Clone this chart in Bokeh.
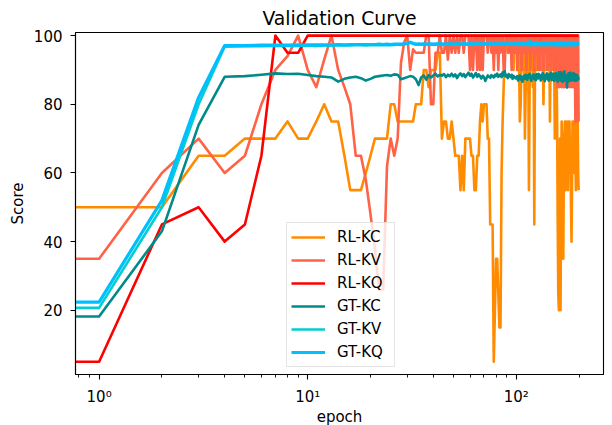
from bokeh.plotting import figure
from bokeh.models import FixedTicker, Legend, LegendItem, Range1d
from bokeh.embed import file_html
from bokeh.resources import INLINE

# ---------------- data ----------------
epochs = list(range(200))

rl_kc = [
    50, 50, 50, 65, 65, 70, 70, 70, 75, 70,
    70, 75, 80, 75, 75, 65, 55, 55, 55, 60,
    65, 70, 70, 70, 70, 80, 80, 75, 75, 75,
    75, 75, 75, 80, 80, 80, 90, 90, 85, 90,
    90, 90, 95, 95, 70, 75, 75, 70, 70, 75,
    70, 65, 65, 65, 55, 65, 55, 70, 70, 70,
    70, 65, 65, 55, 55, 65, 65, 75, 80, 75,
    80, 80, 80, 70, 70, 45, 45, 45, 5, 20,
    35, 35, 25, 15, 15, 60, 75, 85, 95, 100,
    100, 95, 100, 100, 95, 100, 100, 90, 100, 95,
    95, 100, 100, 95, 75, 80, 95, 100, 90, 100,
    70, 85, 100, 95, 100, 55, 90, 100, 95, 100,
    85, 100, 45, 95, 100, 90, 100, 95, 100, 90,
    100, 95, 90, 100, 95, 80, 100, 95, 100, 90,
    100, 95, 100, 90, 100, 75, 95, 100, 90, 100,
    95, 100, 90, 70, 95, 100, 90, 75, 45, 25,
    20, 35, 70, 20, 55, 75, 65, 50, 35, 60,
    70, 75, 55, 65, 75, 60, 70, 55, 75, 65,
    75, 60, 70, 50, 40, 55, 75, 65, 75, 70,
    60, 75, 65, 55, 75, 60, 70, 75, 60, 55,
]

rl_kv = [
    35, 35, 60, 70, 60, 65, 80, 90, 94, 100,
    90, 85, 93, 100, 90, 85, 80, 65, 65, 58,
    48, 38, 26, 26, 62, 70, 65, 70, 92, 98,
    100, 90, 96, 95, 95, 95, 95, 100, 100, 80,
    80, 95, 95, 100, 95, 95, 100, 93, 100, 95,
    100, 95, 100, 95, 100, 100, 95, 100, 100, 100,
    90, 100, 90, 100, 100, 90, 100, 90, 100, 90,
    100, 100, 100, 95, 100, 100, 95, 100, 90, 100,
    95, 100, 90, 100, 95, 100, 100, 90, 90, 100,
    100, 100, 95, 100, 100, 90, 100, 100, 95, 100,
    100, 90, 100, 100, 95, 100, 90, 100, 100, 95,
    100, 100, 90, 100, 95, 100, 100, 90, 100, 100,
    95, 100, 90, 100, 100, 95, 100, 90, 100, 100,
    90, 100, 95, 100, 100, 90, 100, 100, 95, 100,
    100, 90, 100, 95, 100, 100, 90, 100, 95, 100,
    100, 90, 100, 95, 100, 90, 100, 85, 100, 90,
    100, 85, 100, 90, 100, 85, 100, 90, 85, 100,
    85, 100, 90, 100, 85, 100, 90, 85, 100, 90,
    100, 85, 100, 90, 100, 85, 100, 90, 100, 85,
    100, 90, 75, 100, 85, 100, 75, 100, 100, 75,
]

rl_kq = [
    5, 5, 45, 50, 40, 45, 65, 100, 95, 95,
    100, 100, 100, 100, 100, 100, 100, 100, 100, 100,
    100, 100, 100, 100, 100, 100, 100, 100, 100, 100,
    100, 100, 100, 100, 100, 100, 100, 100, 100, 100,
    100, 100, 100, 100, 100, 100, 100, 100, 100, 100,
    100, 100, 100, 100, 100, 100, 100, 100, 100, 100,
    100, 100, 100, 100, 100, 100, 100, 100, 100, 100,
    100, 100, 100, 100, 100, 100, 100, 100, 100, 100,
    100, 100, 100, 100, 100, 100, 100, 100, 100, 100,
    100, 100, 100, 100, 100, 100, 100, 100, 100, 100,
    100, 100, 100, 100, 100, 100, 100, 100, 100, 100,
    100, 100, 100, 100, 100, 100, 100, 100, 100, 100,
    100, 100, 100, 100, 100, 100, 100, 100, 100, 100,
    100, 100, 100, 100, 100, 100, 100, 100, 100, 100,
    100, 100, 100, 100, 100, 100, 100, 100, 100, 100,
    100, 100, 100, 100, 100, 100, 100, 100, 100, 100,
    100, 100, 100, 100, 100, 100, 100, 100, 100, 100,
    100, 100, 100, 100, 100, 100, 100, 100, 100, 100,
    100, 100, 100, 100, 100, 100, 100, 100, 100, 100,
    100, 100, 100, 100, 100, 100, 100, 100, 100, 100,
]

gt_kc = [
    18.2, 18.2, 43, 74, 88, 88.2, 88.6, 89, 88.8, 88.9,
    88.5, 88.2, 88.0, 87.8, 86.6, 87.4, 87.8, 88.0, 87.6, 86.9,
    87.4, 88.0, 88.2, 88.4, 88.5, 88.3, 88.7, 88.6, 87.3, 87.6,
    87.9, 88.2, 88.0, 87.3, 85.6, 87.8, 88.4, 87.2, 88.5, 87.8,
    88.4, 88.9, 88.1, 88.6, 88.3, 88.8, 87.9, 88.6, 88.2, 88.9,
    88.1, 88.7, 87.6, 88.5, 89.0, 88.2, 88.8, 87.9, 88.6, 89.2,
    88.3, 88.9, 87.8, 88.4, 89.1, 88.0, 88.7, 88.2, 87.5, 88.3,
    87.9, 86.8, 87.6, 88.4, 88.0, 87.7, 88.5, 88.1, 87.8, 88.6,
    88.2, 88.9, 88.0, 88.3, 88.7, 87.9, 89.3, 88.4, 89.6, 88.1,
    88.5, 87.6, 88.8, 88.2, 87.9, 88.6, 87.4, 88.3, 88.0, 87.6,
    87.5, 88.2, 86.9, 87.8, 88.4, 87.2, 88.0, 86.6, 87.7, 88.3,
    87.4, 88.6, 87.9, 87.1, 88.5, 87.8, 88.9, 87.6, 86.8, 88.2,
    87.9, 88.7, 87.3, 88.4, 87.0, 88.8, 88.1, 87.5, 88.9, 87.7,
    88.3, 86.9, 88.6, 87.4, 89.1, 87.8, 88.2, 86.7, 88.5, 87.6,
    89.0, 87.3, 88.4, 86.9, 88.8, 87.5, 88.1, 89.2, 87.0, 88.6,
    87.4, 88.9, 86.8, 88.3, 87.7, 89.1, 87.2, 88.5, 86.6, 88.0,
    89.3, 87.5, 88.7, 86.9, 89.4, 87.8, 88.2, 86.5, 88.9, 87.3,
    89.6, 87.0, 88.4, 86.8, 87.9, 84.9, 88.6, 87.2, 89.0, 86.7,
    88.3, 87.6, 89.2, 86.9, 88.5, 87.4, 88.8, 87.0, 89.1, 87.5,
    88.0, 86.8, 88.7, 87.3, 88.2, 86.9, 88.5, 87.1, 87.8, 87.2,
]

gt_kv = [
    20.7, 20.7, 50, 80, 96.8, 96.9, 96.9, 97.0, 97.0, 97.0,
    97.1, 97.0, 97.1, 97.1, 97.1, 97.2, 97.1, 97.2, 97.2, 97.1,
    97.2, 97.2, 97.3, 97.2, 97.3, 97.2, 97.3, 97.4, 97.3, 97.5,
    97.6, 97.9, 97.8, 97.4, 97.5, 97.4, 97.3, 97.4, 97.5, 97.3,
    97.4, 97.3, 97.5, 97.4, 97.3, 97.4, 97.5, 97.3, 97.4, 97.4,
    97.3, 97.4, 97.5, 97.3, 97.4, 97.4, 97.5, 97.3, 97.4, 97.3,
    97.5, 97.4, 97.3, 97.4, 97.5, 97.3, 97.4, 97.5, 97.4, 97.3,
    97.4, 97.5, 97.3, 97.4, 97.4, 97.3, 97.5, 97.4, 97.3, 97.4,
    97.5, 97.3, 97.4, 97.4, 97.5, 97.3, 97.4, 97.3, 97.5, 97.4,
    97.3, 97.4, 97.5, 97.3, 97.4, 97.4, 97.3, 97.5, 97.4, 97.3,
    97.4, 97.3, 97.5, 97.2, 97.4, 97.6, 97.3, 97.4, 97.2, 97.5,
    97.3, 97.4, 97.6, 97.2, 97.4, 97.3, 97.5, 97.2, 97.4, 97.6,
    97.3, 97.4, 97.2, 97.5, 97.3, 97.6, 97.2, 97.4, 97.3, 97.5,
    97.2, 97.4, 97.6, 97.3, 97.2, 97.5, 97.4, 97.2, 97.6, 97.3,
    97.5, 97.2, 97.4, 97.6, 97.3, 97.2, 97.5, 97.4, 97.3, 97.6,
    97.2, 97.5, 97.3, 97.6, 97.2, 97.4, 97.7, 97.3, 97.5, 97.2,
    97.6, 97.3, 97.4, 97.7, 97.2, 97.5, 97.3, 97.6, 97.2, 97.4,
    97.7, 97.3, 97.5, 97.2, 97.6, 97.4, 97.2, 97.7, 97.3, 97.5,
    97.2, 97.6, 97.4, 97.3, 97.7, 97.2, 97.5, 97.4, 97.6, 97.3,
    97.5, 97.2, 97.6, 97.4, 97.3, 97.5, 97.4, 97.6, 97.3, 97.4,
]

gt_kq = [
    22.4, 22.4, 52, 82, 97.1, 97.1, 97.2, 97.2, 97.2, 97.3,
    97.3, 97.3, 97.3, 97.3, 97.4, 97.3, 97.4, 97.4, 97.4, 97.4,
    97.4, 97.4, 97.5, 97.4, 97.5, 97.4, 97.5, 97.5, 97.5, 97.6,
    97.7, 98.1, 97.7, 97.5, 97.6, 97.5, 97.6, 97.5, 97.6, 97.6,
    97.5, 97.6, 97.6, 97.7, 97.5, 97.6, 97.6, 97.5, 97.7, 97.6,
    97.5, 97.6, 97.7, 97.6, 97.5, 97.6, 97.7, 97.5, 97.6, 97.6,
    97.7, 97.5, 97.6, 97.6, 97.7, 97.5, 97.6, 97.7, 97.6, 97.5,
    97.6, 97.7, 97.6, 97.5, 97.6, 97.6, 97.7, 97.5, 97.6, 97.7,
    97.6, 97.5, 97.7, 97.6, 97.6, 97.5, 97.7, 97.6, 97.5, 97.6,
    97.7, 97.6, 97.5, 97.6, 97.7, 97.6, 97.6, 97.5, 97.7, 97.6,
    97.5, 97.7, 97.6, 97.8, 97.5, 97.6, 97.7, 97.5, 97.8, 97.6,
    97.5, 97.7, 97.6, 97.8, 97.5, 97.9, 98.3, 97.6, 97.5, 97.7,
    97.6, 97.8, 97.5, 97.7, 97.6, 97.4, 97.8, 97.6, 97.5, 97.7,
    97.6, 97.8, 97.4, 97.7, 97.5, 97.9, 97.6, 97.4, 97.7, 97.6,
    97.8, 97.5, 97.7, 97.4, 97.9, 97.6, 97.5, 97.8, 97.4, 97.7,
    97.5, 97.9, 97.4, 97.7, 97.6, 98.0, 97.4, 97.8, 97.5, 97.7,
    97.3, 97.9, 97.6, 97.4, 98.1, 97.5, 97.8, 97.3, 97.7, 97.6,
    98.0, 97.4, 97.8, 97.5, 97.3, 97.9, 97.6, 97.4, 98.0, 97.5,
    97.7, 97.3, 97.9, 97.6, 97.4, 97.8, 97.5, 97.7, 97.3, 97.9,
    97.6, 97.4, 97.8, 97.5, 97.7, 97.6, 97.4, 97.8, 97.5, 97.6,
]

series_names = ["RL-KC", "RL-KV", "RL-KQ", "GT-KC", "GT-KV", "GT-KQ"]
series_colors = ["#FF8C00", "#FF6347", "#FF0000", "#008B8B", "#00CED1", "#00BFFF"]
series_values = [rl_kc, rl_kv, rl_kq, gt_kc, gt_kv, gt_kq]

x_major_ticks = [1, 10, 100]
x_major_labels = ["10\u2070", "10\u00b9", "10\u00b2"]
x_minor_ticks = [0.8, 0.9, 2, 3, 4, 5, 6, 7, 8, 9,
                 20, 30, 40, 50, 60, 70, 80, 90, 200]
y_ticks = [20, 40, 60, 80, 100]

# epoch 0 cannot sit on a log axis: like matplotlib's clipping, push it off the left edge
x_plot = [e if e > 0 else 0.5 for e in epochs]

FONT = "DejaVu Sans"

p = figure(
    frame_width=528, frame_height=342,
    x_axis_type="log",
    x_range=Range1d(0.7706, 261.9),
    y_range=Range1d(1.3, 100.9),
    output_backend="svg",
    toolbar_location=None,
    title="Validation Curve",
    min_border_left=75, min_border_right=9,
    min_border_top=32, min_border_bottom=51,
)
p.background_fill_color = "white"
p.border_fill_color = "white"
p.xgrid.visible = False
p.ygrid.visible = False
p.outline_line_color = "black"
p.outline_line_width = 1.1
p.outline_line_alpha = 1.0

p.title.text_font = FONT
p.title.text_font_size = "18.8px"
p.title.text_font_style = "normal"
p.title.text_color = "black"
p.title.text_line_height = 1.0
p.title.align = "center"
p.title.standoff = 8

p.xaxis.ticker = FixedTicker(ticks=x_major_ticks, minor_ticks=x_minor_ticks)
p.xaxis.major_label_overrides = dict(zip(x_major_ticks, x_major_labels))
p.yaxis.ticker = FixedTicker(ticks=y_ticks)

for ax in (p.xaxis[0], p.yaxis[0]):
    ax.axis_line_color = "black"
    ax.axis_line_width = 1.1
    ax.major_tick_line_color = "black"
    ax.major_tick_line_width = 1.1
    ax.minor_tick_line_color = "black"
    ax.minor_tick_line_width = 0.9
    ax.major_tick_out = 5
    ax.major_tick_in = 0
    ax.minor_tick_out = 3
    ax.minor_tick_in = 0
    ax.major_label_text_font = FONT
    ax.major_label_text_font_size = "15px"
    ax.major_label_text_color = "black"
    ax.major_label_text_line_height = 1.0
    ax.axis_label_text_font = FONT
    ax.axis_label_text_font_size = "15px"
    ax.axis_label_text_font_style = "normal"
    ax.axis_label_text_color = "black"
    ax.axis_label_text_line_height = 1.0

p.xaxis.axis_label = "epoch"
p.yaxis.axis_label = "Score"
p.xaxis.major_label_standoff = 8
p.xaxis.axis_label_standoff = -1
p.yaxis.major_label_standoff = 8
p.yaxis.axis_label_standoff = 4

items = []
for name, color, ys in zip(series_names, series_colors, series_values):
    w = 3.2 if name == "GT-KQ" else 2.6
    r = p.line(x_plot, ys, line_color=color, line_width=w, line_join="round")
    items.append(LegendItem(label=name, renderers=[r]))

legend = Legend(
    items=items,
    location=(211, 7),
    margin=0,
    padding=4,
    spacing=3,
    glyph_width=34,
    glyph_height=20,
    label_height=20,
    label_width=53,
    label_standoff=12,
    label_text_font=FONT,
    label_text_font_size="15px",
    label_text_color="black",
    background_fill_color="white",
    background_fill_alpha=0.8,
    border_line_color="#cccccc",
    border_line_width=1,
)
p.add_layout(legend)

open("out.html", "w").write(file_html(p, INLINE))
